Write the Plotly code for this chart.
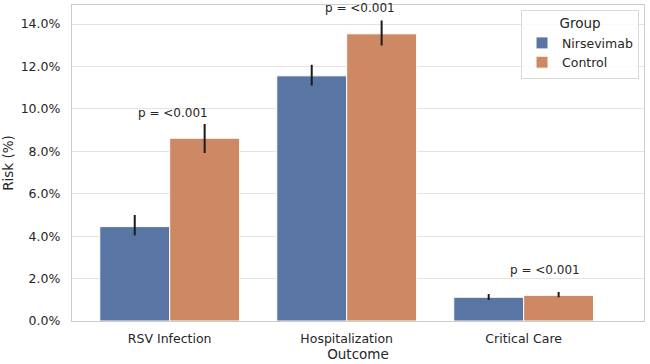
import plotly.graph_objects as go

outcomes = ["RSV Infection", "Hospitalization", "Critical Care"]
groups = ["Nirsevimab", "Control"]
nirsevimab_risk = [4.45, 11.56, 1.12]
nirsevimab_hi = [5.00, 12.08, 1.27]
nirsevimab_lo = [4.04, 11.10, 0.99]
control_risk = [8.62, 13.54, 1.21]
control_hi = [9.29, 14.17, 1.37]
control_lo = [7.92, 12.99, 1.12]
p_labels = ["p = <0.001", "p = <0.001", "p = <0.001"]

colors = ["#5975A4", "#CC8963"]
text_color = "#262626"
font = "DejaVu Sans"

fig = go.Figure()
series = [
    (nirsevimab_risk, nirsevimab_hi, nirsevimab_lo),
    (control_risk, control_hi, control_lo),
]
for name, (vals, hi, lo), col in zip(groups, series, colors):
    fig.add_trace(go.Bar(
        name=name, x=outcomes, y=vals,
        marker=dict(color=col, line=dict(color="white", width=1)),
        error_y=dict(type="data", symmetric=False,
                     array=[h - v for h, v in zip(hi, vals)],
                     arrayminus=[v - l for v, l in zip(vals, lo)],
                     color="#1a1a1a", thickness=2, width=0),
    ))

xshifts = [3, 13, 21]
for i, (lab, a, b) in enumerate(zip(p_labels, nirsevimab_risk, control_risk)):
    fig.add_annotation(x=i, y=max(a, b) + 1.2, text=lab, showarrow=False,
                       xref="x", yref="y", yanchor="middle", xshift=xshifts[i],
                       font=dict(family=font, size=12, color=text_color))

fig.update_layout(
    width=650, height=364,
    margin=dict(l=72, r=6, t=5, b=43),
    paper_bgcolor="white", plot_bgcolor="white",
    barmode="group", bargap=0.21, bargroupgap=0,
    font=dict(family=font, size=12.5, color=text_color),
    legend=dict(
        x=0.785, y=0.985, xanchor="left", yanchor="top",
        bgcolor="rgba(255,255,255,0.85)", bordercolor="#d9d9d9", borderwidth=1,
        title=dict(text="Group", side="top center", font=dict(family=font, size=13.5, color=text_color)),
        font=dict(family=font, size=12.5, color=text_color),
    ),
    xaxis=dict(
        range=[-0.552, 2.68], showgrid=False, ticks="",
        showline=True, linecolor="#cccccc", linewidth=1.25, mirror=True,
        ticklabelstandoff=6,
        title=dict(text="Outcome", font=dict(family=font, size=13.5, color=text_color), standoff=2),
        tickfont=dict(family=font, size=12.5, color=text_color),
    ),
    yaxis=dict(
        range=[0, 14.9], dtick=2, tickformat=".1f", ticksuffix="%",
        showgrid=True, gridcolor="#e3e3e3", gridwidth=1, zeroline=False,
        showline=True, linecolor="#cccccc", linewidth=1.25, mirror=True,
        ticklabelstandoff=8,
        title=dict(text="Risk (%)", font=dict(family=font, size=13.5, color=text_color), standoff=4),
        tickfont=dict(family=font, size=12.5, color=text_color),
        ticks="",
    ),
)

fig.write_html("out.html")
